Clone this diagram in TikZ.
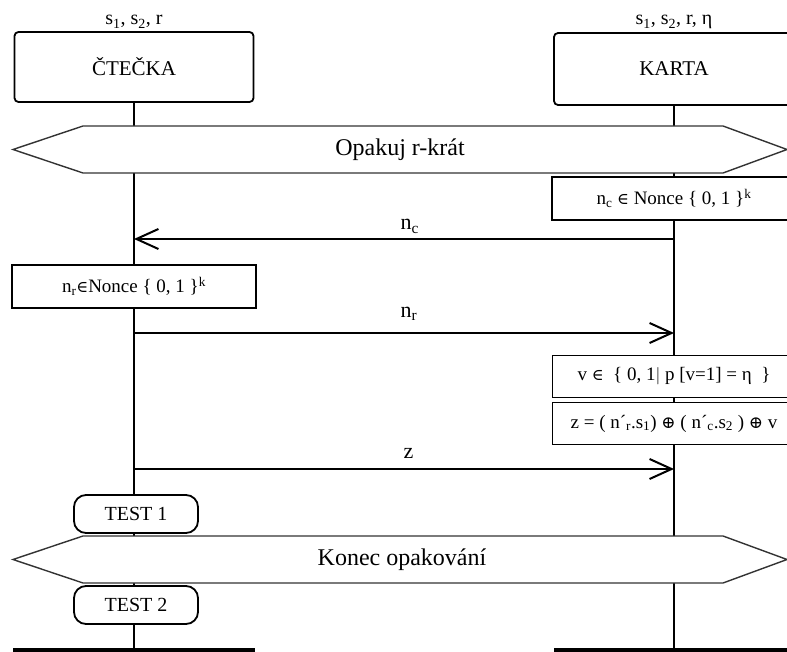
\documentclass[tikz,border=0pt]{standalone}
\usepackage{fontspec}
\setmainfont{Liberation Serif}
\newfontfamily\symfont{DejaVu Serif}
\usetikzlibrary{arrows.meta}

\newcommand{\fsz}[1]{\fontsize{#1}{#1}\selectfont}
\newcommand{\elem}{{\symfont\fsz{16}∈}}
\newcommand{\xorsym}{{\symfont\fsz{17}⊕}}

\tikzset{
  actor/.style={draw, line width=1.8pt, rounded corners=4pt, fill=white, inner sep=0pt, font=\fsz{21}},
  keys/.style={anchor=base, font=\fsz{20}},
  calcbox/.style={draw, line width=1.8pt, fill=white, inner sep=0pt, minimum height=42pt, minimum width=243pt, font=\fsz{19}},
  testbox/.style={draw, line width=1.8pt, rounded corners=12pt, fill=white, inner sep=0pt, minimum width=124pt, minimum height=38pt, font=\fsz{20}},
  loopbar/.style={draw=black!80, line width=1.4pt, fill=white},
  looptext/.style={font=\fsz{24}},
  life/.style={line width=1.8pt},
  msg/.style={line width=2pt, -{Straight Barb[length=22pt,width=20pt]}},
  msglabel/.style={anchor=base west, font=\fsz{22}}
}

\begin{document}
\begin{tikzpicture}[x=1pt, y=-1pt]

      \useasboundingbox (0,0) rectangle (787,652);
      \clip (0,0) rectangle (787,652);

      \node[actor, minimum width=239pt, minimum height=70pt] (reader) at (134,67) {ČTEČKA};
      \node[actor, minimum width=240pt, minimum height=72pt] (card) at (674,69) {KARTA};
      \node[keys] (readerkeys) at (134,25) {s\textsubscript{1}, s\textsubscript{2}, r};
      \node[keys] (cardkeys) at (674,25) {s\textsubscript{1}, s\textsubscript{2}, r, η};

      \coordinate (readerend) at (134,648);
      \coordinate (cardend) at (674,648);
      \draw[life] (reader.south) -- (readerend);
      \draw[life] (card.south) -- (cardend);

      \coordinate (ncR) at (674,239);
      \coordinate (ncL) at (134,239);
      \coordinate (nrL) at (134,333);
      \coordinate (nrR) at (674,333);
      \coordinate (zL) at (134,469);
      \coordinate (zR) at (674,469);

      \draw[loopbar] (13,149.5) -- (83,126) -- (723,126) -- (787,149.5) -- (723,173) -- (83,173) -- cycle;
      \node[looptext] (repeat) at (400,149.5) {Opakuj r-krát};

      \node[calcbox, minimum width=244pt, minimum height=43pt] (ncbox) at (674,198.5)
        {n\textsubscript{c} \elem{} Nonce \{ 0, 1 \}\textsuperscript{k}};
      \draw[msg] (ncR) -- (ncL);
      \node[msglabel] (nclabel) at (397,230) {n\textsubscript{c}};

      \node[calcbox, minimum width=244pt, minimum height=43pt] (nrbox) at (134,286.5)
        {n\textsubscript{r}\elem{}Nonce \{ 0, 1 \}\textsuperscript{k}};
      \draw[msg] (nrL) -- (nrR);
      \node[msglabel] (nrlabel) at (397,317) {n\textsubscript{r}};

      \node[calcbox] (vbox) at (674,376.5)
        {v \elem{} \ \{ 0, 1$|$ p [v=1] = η \ \}};
      \node[calcbox] (zbox) at (674,423.5)
        {z = ( n´\textsubscript{r}.s\textsubscript{1}) \xorsym{} ( n´\textsubscript{c}.s\textsubscript{2} ) \xorsym{} v};
      \draw[msg] (zL) -- (zR);
      \node[msglabel] (zlabel) at (400,458) {z};

      \node[testbox] (test1) at (136,514) {TEST 1};

      \draw[loopbar] (13,559.5) -- (83,536) -- (723,536) -- (787,559.5) -- (723,583) -- (83,583) -- cycle;
      \node[looptext] (endrepeat) at (402,559.5) {Konec opakování};

      \node[testbox] (test2) at (136,605) {TEST 2};

      \fill (13,648) rectangle (255,660);
      \fill (554,648) rectangle (800,660);

    \end{tikzpicture}
\end{document}
